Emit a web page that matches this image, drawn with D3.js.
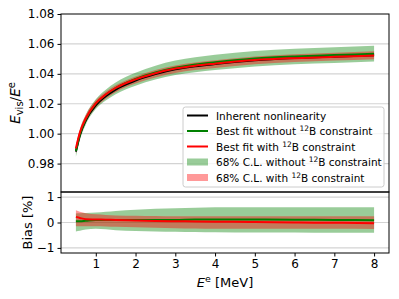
<!DOCTYPE html>
<html>
<head>
<meta charset="utf-8">
<script src="https://cdn.jsdelivr.net/npm/d3@7"></script>
<style>
  body { margin: 0; background: #fff; }
  text { font-family: "DejaVu Sans", sans-serif; fill: #000; }
</style>
</head>
<body>
<svg id="chart" width="399" height="299"></svg>
<script>
// Data.
const energy = [0.5, 0.6, 0.75, 1, 1.25, 1.5, 2, 2.5, 3, 3.5, 4, 5, 6, 7, 8]; // MeV
const inherent = [0.988, 0.999, 1.009, 1.019, 1.025, 1.0295, 1.0355, 1.0398, 1.043, 1.045, 1.0465, 1.049, 1.0505, 1.0515, 1.0525];

// Bias [%] of the fits relative to the inherent nonlinearity.
const biasWithout = [0.05, 0.05, 0.07, 0.1, 0.1, 0.1, 0.1, 0.1, 0.1, 0.12, 0.12, 0.12, 0.11, 0.1, 0.09];
const biasWith = [0.22, 0.18, 0.13, 0.12, 0.11, 0.1, 0.08, 0.06, 0.05, 0.04, 0.03, 0.02, 0.0, -0.01, -0.03];
const bandWithoutHi = [0.35, 0.36, 0.37, 0.39, 0.42, 0.45, 0.5, 0.54, 0.56, 0.58, 0.6, 0.6, 0.6, 0.6, 0.6];
const bandWithoutLo = [-0.35, -0.32, -0.28, -0.25, -0.27, -0.3, -0.33, -0.35, -0.36, -0.37, -0.38, -0.39, -0.39, -0.4, -0.4];
const bandWithHi = [0.48, 0.42, 0.36, 0.32, 0.3, 0.28, 0.27, 0.26, 0.25, 0.25, 0.25, 0.25, 0.25, 0.25, 0.25];
const bandWithLo = [-0.15, -0.15, -0.15, -0.15, -0.16, -0.17, -0.19, -0.21, -0.23, -0.24, -0.25, -0.25, -0.25, -0.25, -0.26];

const xTicks = [1, 2, 3, 4, 5, 6, 7, 8];
const topTicks = [0.98, 1.00, 1.02, 1.04, 1.06, 1.08];
const biasTicks = [-1, 0, 1];

// Layout.
const left = 61, right = 389;
const topPanel = {y0: 14, y1: 192};
const botPanel = {y0: 192, y1: 253};

const svg = d3.select('#chart');

const x = d3.scaleLinear().domain([0.125, 8.375]).range([left, right]);
const yTop = d3.scaleLinear().domain([0.961, 1.08]).range([topPanel.y1, topPanel.y0]);
const yBot = d3.scaleLinear().domain([-1.2, 1.2]).range([botPanel.y1, botPanel.y0]);

const rows = energy.map((e, i) => ({
    e,
    truth: inherent[i],
    bNo: biasWithout[i], bW: biasWith[i],
    noHi: bandWithoutHi[i], noLo: bandWithoutLo[i],
    wHi: bandWithHi[i], wLo: bandWithLo[i]
}));
// fit value in the top panel = truth scaled by its bias
const scaleBy = (d, b) => d.truth * (1 + b / 100);

const green = '#008000', red = '#ff0000';
const greenFill = 'rgba(0,128,0,0.4)', redFill = 'rgba(255,0,0,0.4)';
const curve = d3.curveMonotoneX;

// Grid lines.
function grid(scale, ticks) {
    svg.append('g').selectAll('line')
        .data(ticks)
        .join('line')
            .attr('x1', left).attr('x2', right)
            .attr('y1', d => scale(d)).attr('y2', d => scale(d))
            .attr('stroke', '#d3d3d3')
            .attr('stroke-width', 1.2);
}
grid(yTop, topTicks.filter(t => t < 1.08));
grid(yBot, biasTicks);

// Top panel.
const gTop = svg.append('g');
gTop.append('path').datum(rows)
    .attr('fill', greenFill)
    .attr('d', d3.area().curve(curve).x(d => x(d.e))
        .y0(d => yTop(scaleBy(d, d.noLo))).y1(d => yTop(scaleBy(d, d.noHi))));
gTop.append('path').datum(rows)
    .attr('fill', redFill)
    .attr('d', d3.area().curve(curve).x(d => x(d.e))
        .y0(d => yTop(scaleBy(d, d.wLo))).y1(d => yTop(scaleBy(d, d.wHi))));

const topLine = (acc, color) => gTop.append('path').datum(rows)
    .attr('fill', 'none').attr('stroke', color).attr('stroke-width', 2)
    .attr('d', d3.line().curve(curve).x(d => x(d.e)).y(d => yTop(acc(d))));
topLine(d => d.truth, '#000');
topLine(d => scaleBy(d, d.bNo), green);
topLine(d => scaleBy(d, d.bW), red);

// Bottom panel.
const gBot = svg.append('g');
gBot.append('path').datum(rows)
    .attr('fill', greenFill)
    .attr('d', d3.area().curve(curve).x(d => x(d.e)).y0(d => yBot(d.noLo)).y1(d => yBot(d.noHi)));
gBot.append('path').datum(rows)
    .attr('fill', redFill)
    .attr('d', d3.area().curve(curve).x(d => x(d.e)).y0(d => yBot(d.wLo)).y1(d => yBot(d.wHi)));
const botLine = (acc, color) => gBot.append('path').datum(rows)
    .attr('fill', 'none').attr('stroke', color).attr('stroke-width', 2)
    .attr('d', d3.line().curve(curve).x(d => x(d.e)).y(d => yBot(acc(d))));
botLine(d => d.bNo, green);
botLine(d => d.bW, red);

// Axes.
const fmtMinus = d => d3.format('d')(d).replace('-', '\u2212');
const axTop = svg.append('g').attr('transform', `translate(${left},0)`)
    .call(d3.axisLeft(yTop).tickValues(topTicks).tickFormat(d3.format('.2f')).tickSizeOuter(0).tickSize(3.5).tickPadding(3));
const axBot = svg.append('g').attr('transform', `translate(${left},0)`)
    .call(d3.axisLeft(yBot).tickValues(biasTicks).tickFormat(fmtMinus).tickSizeOuter(0).tickSize(3.5).tickPadding(3));
const axX = svg.append('g').attr('transform', `translate(0,${botPanel.y1})`)
    .call(d3.axisBottom(x).tickValues(xTicks).tickSizeOuter(0).tickSize(3.5).tickPadding(3));
[axTop, axBot, axX].forEach(a => {
    a.selectAll('text').attr('font-size', 12).attr('font-family', '"DejaVu Sans", sans-serif');
    a.selectAll('line').attr('stroke', '#000');
    a.select('.domain').remove();
});

// Spines.
[topPanel, botPanel].forEach(p => {
    svg.append('rect')
        .attr('x', left).attr('y', p.y0)
        .attr('width', right - left).attr('height', p.y1 - p.y0)
        .attr('fill', 'none').attr('stroke', '#000').attr('stroke-width', 1);
});

// Axis labels.
const yl = svg.append('text')
    .attr('transform', `translate(20,${(topPanel.y0 + topPanel.y1) / 2}) rotate(-90)`)
    .attr('text-anchor', 'middle').attr('font-size', 13.5);
yl.append('tspan').attr('font-style', 'italic').text('E');
yl.append('tspan').attr('font-size', 10).attr('dy', 3).text('vis');
yl.append('tspan').attr('dy', -3).text('/');
yl.append('tspan').attr('font-style', 'italic').text('E');
yl.append('tspan').attr('font-size', 10).attr('dy', -5.5).text('e');

svg.append('text')
    .attr('transform', `translate(32,${yBot(0)}) rotate(-90)`)
    .attr('text-anchor', 'middle').attr('font-size', 13)
    .text('Bias [%]');

const xl = svg.append('text')
    .attr('x', (left + right) / 2).attr('y', 287)
    .attr('text-anchor', 'middle').attr('font-size', 13);
xl.append('tspan').attr('font-style', 'italic').text('E');
xl.append('tspan').attr('font-size', 9.5).attr('dy', -5).text('e');
xl.append('tspan').attr('dy', 5).text(' [MeV]');

// Legend.
const legendItems = [
    {kind: 'line', color: '#000', pre: 'Inherent nonlinearity'},
    {kind: 'line', color: green, pre: 'Best fit without ', sup: '12', post: 'B constraint'},
    {kind: 'line', color: red, pre: 'Best fit with ', sup: '12', post: 'B constraint'},
    {kind: 'patch', color: greenFill, pre: '68% C.L. without ', sup: '12', post: 'B constraint'},
    {kind: 'patch', color: redFill, pre: '68% C.L. with ', sup: '12', post: 'B constraint'}
];
const lg = svg.append('g').attr('transform', 'translate(183,107)');
lg.append('rect')
    .attr('width', 201).attr('height', 80).attr('rx', 2.5)
    .attr('fill', 'rgba(255,255,255,0.8)').attr('stroke', '#cccccc').attr('stroke-width', 1);
const item = lg.selectAll('g.item').data(legendItems).join('g')
    .attr('class', 'item')
    .attr('transform', (d, i) => `translate(0,${8.5 + i * 15.5})`);
item.filter(d => d.kind === 'line').append('line')
    .attr('x1', 4).attr('x2', 25).attr('y1', 0).attr('y2', 0)
    .attr('stroke', d => d.color).attr('stroke-width', 2);
item.filter(d => d.kind === 'patch').append('rect')
    .attr('x', 4).attr('y', -3.5).attr('width', 21).attr('height', 7)
    .attr('fill', d => d.color);
const lt = item.append('text').attr('x', 33).attr('y', 4).attr('font-size', 10.5);
lt.append('tspan').text(d => d.pre);
lt.filter(d => d.sup).append('tspan').attr('font-size', 7.5).attr('dy', -4).text(d => d.sup);
lt.filter(d => d.sup).append('tspan').attr('dy', 4).text(d => d.post);
</script>
</body>
</html>
